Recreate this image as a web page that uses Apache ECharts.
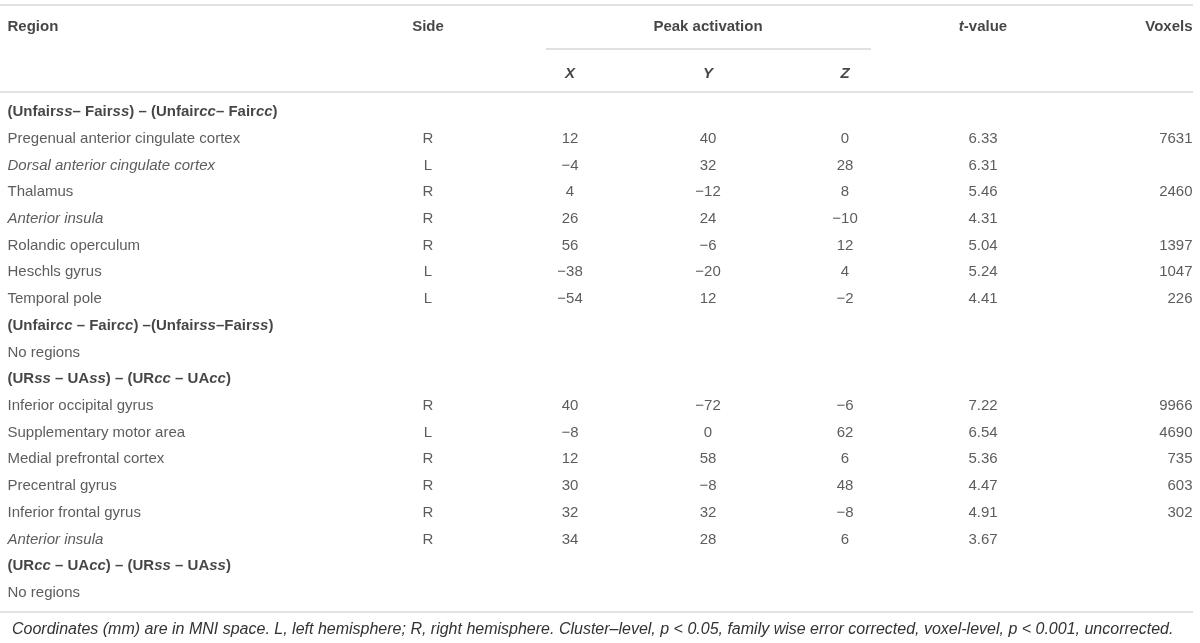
<!DOCTYPE html>
<html>
<head>
<meta charset="utf-8">
<script src="https://cdn.jsdelivr.net/npm/echarts@6/dist/echarts.min.js"></script>
<style>
  html, body { margin: 0; padding: 0; background: #fff; }
  #main { width: 1200px; height: 643px; }
</style>
</head>
<body>
<div id="main"></div>
<script>
// Table content. Text between * * is set in italic.
const regions = [
  '(Unfair*ss*– Fair*ss*) – (Unfair*cc*– Fair*cc*)',
  'Pregenual anterior cingulate cortex',
  'Dorsal anterior cingulate cortex',
  'Thalamus',
  'Anterior insula',
  'Rolandic operculum',
  'Heschls gyrus',
  'Temporal pole',
  '(Unfair*cc* – Fair*cc*) –(Unfair*ss*–Fair*ss*)',
  'No regions',
  '(UR*ss* – UA*ss*) – (UR*cc* – UA*cc*)',
  'Inferior occipital gyrus',
  'Supplementary motor area',
  'Medial prefrontal cortex',
  'Precentral gyrus',
  'Inferior frontal gyrus',
  'Anterior insula',
  '(UR*cc* – UA*cc*) – (UR*ss* – UA*ss*)',
  'No regions'
];
// group = bold contrast heading, italic = sub-peak of the cluster above
const rowKind = ['group', 'plain', 'italic', 'plain', 'italic', 'plain', 'plain', 'plain',
  'group', 'plain', 'group', 'plain', 'plain', 'plain', 'plain', 'plain', 'italic', 'group', 'plain'];
const sides   = [null, 'R', 'L', 'R', 'R', 'R', 'L', 'L', null, null, null, 'R', 'L', 'R', 'R', 'R', 'R', null, null];
const peakX   = [null, 12, -4, 4, 26, 56, -38, -54, null, null, null, 40, -8, 12, 30, 32, 34, null, null];
const peakY   = [null, 40, 32, -12, 24, -6, -20, 12, null, null, null, -72, 0, 58, -8, 32, 28, null, null];
const peakZ   = [null, 0, 28, 8, -10, 12, 4, -2, null, null, null, -6, 62, 6, 48, -8, 6, null, null];
const tValues = [null, 6.33, 6.31, 5.46, 4.31, 5.04, 5.24, 4.41, null, null, null, 7.22, 6.54, 5.36, 4.47, 4.91, 3.67, null, null];
const voxels  = [null, 7631, null, 2460, null, 1397, 1047, 226, null, null, null, 9966, 4690, 735, 603, 302, null, null, null];

const headTop = ['Region', 'Side', 'Peak activation', '*t*-value', 'Voxels'];
const headCoords = ['*X*', '*Y*', '*Z*'];
const footnote = 'Coordinates (mm) are in MNI space. L, left hemisphere; R, right hemisphere. Cluster–level, p < 0.05, family wise error corrected, voxel-level, p < 0.001, uncorrected.';

// Layout (pixel columns on a 0..1200 value axis)
const FONT = '"Liberation Sans", Arial, Helvetica, sans-serif';
const col = { region: 7, side: 428, x: 570, y: 708, z: 845, t: 983, vox: 1193 };
const TEXT = '#333';
const BOLD = '#161616';

const rich = {
  n:  { fontFamily: FONT, fontSize: 15, color: TEXT },
  i:  { fontFamily: FONT, fontSize: 15, color: TEXT, fontStyle: 'italic' },
  b:  { fontFamily: FONT, fontSize: 15, color: BOLD, fontWeight: 'bold' },
  bi: { fontFamily: FONT, fontSize: 15, color: BOLD, fontWeight: 'bold', fontStyle: 'italic' }
};

// '*a*b' -> rich segments, italic parts get the italic variant of base style
function toRich(str, base) {
  return str.split('*').map((s, k) => {
    if (!s) return '';
    const st = k % 2 ? (base === 'b' ? 'bi' : 'i') : base;
    return '{' + st + '|' + s + '}';
  }).join('');
}

function fmtNum(v) {
  return v < 0 ? '\u2212' + Math.abs(v) : String(v);
}

function textSeries(name, gridIdx, texts, xPos, align) {
  const pos = align === 'left' ? 'right' : align === 'right' ? 'left' : 'inside';
  return {
    name: name,
    type: 'scatter',
    xAxisIndex: gridIdx,
    yAxisIndex: gridIdx,
    symbolSize: 1,
    itemStyle: { color: 'transparent' },
    silent: true,
    animation: false,
    label: {
      show: true,
      position: pos,
      distance: 0,
      formatter: p => p.data.text,
      rich: rich
    },
    data: texts.map((t, i) => t == null ? null : { value: [xPos, i], text: t }).filter(d => d)
  };
}

const bodyRows = regions.map((_, i) => String(i));
const series = [
  // header
  textSeries('hRegion', 0, [toRich(headTop[0], 'b'), null], col.region, 'left'),
  textSeries('hSide', 0, [toRich(headTop[1], 'b'), null], col.side, 'center'),
  textSeries('hPeak', 0, [toRich(headTop[2], 'b'), toRich(headCoords[1], 'b')], col.y, 'center'),
  textSeries('hX', 0, [null, toRich(headCoords[0], 'b')], col.x, 'center'),
  textSeries('hZ', 0, [null, toRich(headCoords[2], 'b')], col.z, 'center'),
  textSeries('hT', 0, [toRich(headTop[3], 'b'), null], col.t, 'center'),
  textSeries('hVox', 0, [toRich(headTop[4], 'b'), null], col.vox, 'right'),
  // body
  textSeries('region', 1, regions.map((r, i) =>
    rowKind[i] === 'group' ? toRich(r, 'b') : rowKind[i] === 'italic' ? toRich('*' + r + '*', 'n') : toRich(r, 'n')
  ), col.region, 'left'),
  textSeries('side', 1, sides.map(s => s == null ? null : toRich(s, 'n')), col.side, 'center'),
  textSeries('x', 1, peakX.map(v => v == null ? null : toRich(fmtNum(v), 'n')), col.x, 'center'),
  textSeries('y', 1, peakY.map(v => v == null ? null : toRich(fmtNum(v), 'n')), col.y, 'center'),
  textSeries('z', 1, peakZ.map(v => v == null ? null : toRich(fmtNum(v), 'n')), col.z, 'center'),
  textSeries('t', 1, tValues.map(v => v == null ? null : toRich(v.toFixed(2), 'n')), col.t, 'center'),
  textSeries('vox', 1, voxels.map(v => v == null ? null : toRich(String(v), 'n')), col.vox, 'right')
];

const chart = echarts.init(document.getElementById('main'));
chart.setOption({
  backgroundColor: '#fff',
  animation: false,
  title: {
    text: footnote,
    left: 7,
    top: 617,
    textStyle: { fontFamily: FONT, fontSize: 16, fontWeight: 'normal', fontStyle: 'italic', color: TEXT }
  },
  grid: [
    { left: 0, right: 0, top: 3.5, height: 94 },
    { left: 0, right: 0, top: 98.6, height: 507.7 }
  ],
  xAxis: [
    { type: 'value', gridIndex: 0, min: 0, max: 1200, show: false },
    { type: 'value', gridIndex: 1, min: 0, max: 1200, show: false }
  ],
  yAxis: [
    { type: 'category', gridIndex: 0, data: ['0', '1'], inverse: true, show: false },
    { type: 'category', gridIndex: 1, data: bodyRows, inverse: true, show: false }
  ],
  graphic: [
    { type: 'line', shape: { x1: 0, y1: 5, x2: 1193, y2: 5 }, style: { stroke: '#e2e2e2', lineWidth: 2 }, silent: true },
    { type: 'line', shape: { x1: 546, y1: 49, x2: 871, y2: 49 }, style: { stroke: '#c4c4c4', lineWidth: 1.2 }, silent: true },
    { type: 'line', shape: { x1: 0, y1: 92, x2: 1193, y2: 92 }, style: { stroke: '#e2e2e2', lineWidth: 2 }, silent: true },
    { type: 'line', shape: { x1: 0, y1: 612, x2: 1193, y2: 612 }, style: { stroke: '#e2e2e2', lineWidth: 2 }, silent: true }
  ],
  series: series
});
window.addEventListener('resize', () => chart.resize());
</script>
</body>
</html>
